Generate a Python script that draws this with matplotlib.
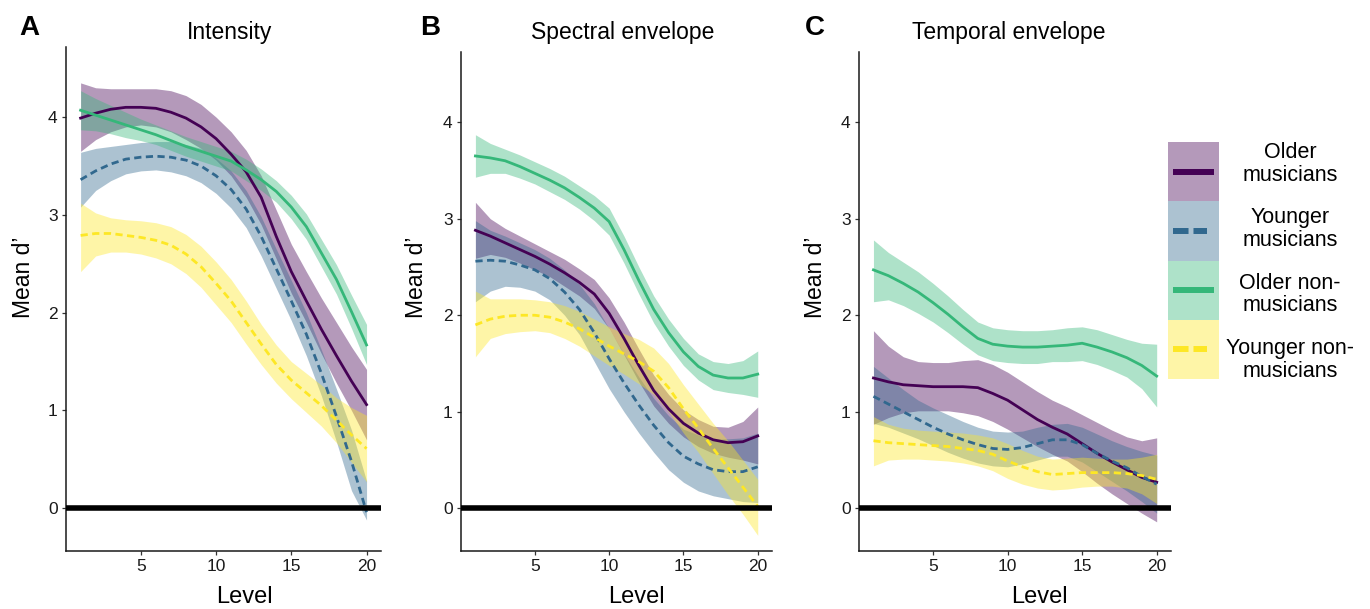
import matplotlib
matplotlib.use('Agg')
import matplotlib.pyplot as plt
from matplotlib.patches import Rectangle

plt.rcParams['font.family'] = ['Liberation Sans', 'DejaVu Sans']

levels = list(range(1, 21))

groups = ['Older\nmusicians', 'Younger\nmusicians', 'Older non-\nmusicians', 'Younger non-\nmusicians']
colors = ['#440154', '#31688E', '#35B779', '#FDE725']
dashed = [False, True, False, True]

# --- A: Intensity ---
int_om = [3.99, 4.04, 4.08, 4.10, 4.10, 4.09, 4.05, 3.99, 3.90, 3.78, 3.62, 3.44, 3.18, 2.78, 2.42, 2.12, 1.83, 1.56, 1.30, 1.06]
int_om_hi = [4.35, 4.30, 4.29, 4.29, 4.29, 4.29, 4.27, 4.22, 4.13, 4.00, 3.85, 3.66, 3.40, 3.05, 2.70, 2.42, 2.15, 1.90, 1.65, 1.42]
int_om_lo = [3.65, 3.77, 3.85, 3.90, 3.92, 3.90, 3.85, 3.77, 3.68, 3.56, 3.40, 3.18, 2.90, 2.55, 2.20, 1.90, 1.58, 1.28, 1.00, 0.70]

int_ym = [3.36, 3.45, 3.52, 3.57, 3.59, 3.60, 3.59, 3.56, 3.50, 3.40, 3.26, 3.06, 2.78, 2.45, 2.12, 1.78, 1.38, 0.94, 0.48, -0.04]
int_ym_hi = [3.64, 3.68, 3.70, 3.72, 3.74, 3.75, 3.75, 3.72, 3.68, 3.58, 3.45, 3.25, 2.98, 2.65, 2.33, 2.00, 1.62, 1.22, 0.80, 0.28]
int_ym_lo = [3.08, 3.25, 3.35, 3.42, 3.45, 3.46, 3.44, 3.40, 3.33, 3.22, 3.07, 2.87, 2.58, 2.25, 1.92, 1.56, 1.15, 0.68, 0.18, -0.12]

int_on = [4.07, 4.02, 3.97, 3.92, 3.87, 3.82, 3.76, 3.70, 3.65, 3.60, 3.55, 3.46, 3.36, 3.24, 3.08, 2.88, 2.61, 2.34, 2.01, 1.67]
int_on_hi = [4.27, 4.19, 4.12, 4.05, 3.98, 3.92, 3.86, 3.80, 3.75, 3.70, 3.65, 3.57, 3.47, 3.35, 3.20, 3.01, 2.75, 2.49, 2.18, 1.88]
int_on_lo = [3.87, 3.86, 3.83, 3.79, 3.76, 3.72, 3.66, 3.60, 3.55, 3.50, 3.45, 3.35, 3.25, 3.13, 2.96, 2.75, 2.47, 2.19, 1.84, 1.47]

int_yn = [2.79, 2.81, 2.81, 2.79, 2.77, 2.74, 2.69, 2.60, 2.47, 2.30, 2.12, 1.90, 1.68, 1.47, 1.31, 1.18, 1.05, 0.90, 0.75, 0.61]
int_yn_hi = [3.12, 3.02, 2.97, 2.95, 2.94, 2.92, 2.88, 2.80, 2.68, 2.52, 2.34, 2.12, 1.88, 1.67, 1.50, 1.38, 1.26, 1.13, 1.03, 0.95]
int_yn_lo = [2.42, 2.58, 2.62, 2.62, 2.60, 2.56, 2.50, 2.40, 2.26, 2.08, 1.90, 1.68, 1.47, 1.28, 1.12, 0.98, 0.84, 0.67, 0.47, 0.27]

# --- B: Spectral envelope ---
spec_om = [2.88, 2.82, 2.75, 2.68, 2.61, 2.53, 2.44, 2.34, 2.22, 2.02, 1.76, 1.48, 1.22, 1.03, 0.88, 0.78, 0.71, 0.68, 0.69, 0.75]
spec_om_hi = [3.17, 3.00, 2.90, 2.82, 2.74, 2.66, 2.58, 2.48, 2.37, 2.18, 1.93, 1.65, 1.38, 1.18, 1.02, 0.92, 0.85, 0.84, 0.90, 1.05]
spec_om_lo = [2.59, 2.63, 2.60, 2.54, 2.47, 2.40, 2.30, 2.20, 2.07, 1.86, 1.59, 1.31, 1.06, 0.88, 0.74, 0.64, 0.57, 0.53, 0.50, 0.46]

spec_ym = [2.56, 2.57, 2.56, 2.52, 2.47, 2.38, 2.24, 2.06, 1.82, 1.55, 1.30, 1.07, 0.86, 0.68, 0.54, 0.46, 0.40, 0.38, 0.38, 0.43]
spec_ym_hi = [2.98, 2.88, 2.82, 2.75, 2.68, 2.59, 2.47, 2.32, 2.12, 1.86, 1.60, 1.36, 1.14, 0.96, 0.82, 0.76, 0.72, 0.72, 0.73, 0.78]
spec_ym_lo = [2.14, 2.25, 2.30, 2.29, 2.25, 2.16, 2.00, 1.80, 1.52, 1.24, 1.00, 0.78, 0.58, 0.40, 0.27, 0.18, 0.13, 0.10, 0.07, 0.06]

spec_on = [3.65, 3.63, 3.60, 3.54, 3.47, 3.40, 3.32, 3.22, 3.11, 2.97, 2.68, 2.36, 2.06, 1.82, 1.62, 1.47, 1.38, 1.35, 1.35, 1.39]
spec_on_hi = [3.87, 3.78, 3.72, 3.66, 3.59, 3.52, 3.44, 3.34, 3.24, 3.11, 2.82, 2.50, 2.20, 1.96, 1.76, 1.60, 1.52, 1.50, 1.53, 1.63]
spec_on_lo = [3.43, 3.47, 3.47, 3.42, 3.36, 3.28, 3.20, 3.10, 2.98, 2.83, 2.54, 2.22, 1.92, 1.68, 1.48, 1.33, 1.23, 1.20, 1.18, 1.15]

spec_yn = [1.90, 1.96, 1.99, 2.00, 2.00, 1.98, 1.93, 1.86, 1.77, 1.68, 1.60, 1.52, 1.42, 1.25, 1.03, 0.83, 0.62, 0.42, 0.22, 0.02]
spec_yn_hi = [2.25, 2.17, 2.17, 2.17, 2.16, 2.14, 2.10, 2.04, 1.96, 1.88, 1.81, 1.75, 1.66, 1.50, 1.28, 1.08, 0.88, 0.70, 0.50, 0.30]
spec_yn_lo = [1.57, 1.76, 1.81, 1.83, 1.84, 1.82, 1.76, 1.68, 1.58, 1.48, 1.39, 1.29, 1.18, 1.00, 0.78, 0.58, 0.36, 0.14, -0.06, -0.28]

# --- C: Temporal envelope ---
temp_om = [1.35, 1.31, 1.28, 1.27, 1.26, 1.26, 1.26, 1.25, 1.19, 1.12, 1.02, 0.92, 0.84, 0.77, 0.67, 0.57, 0.48, 0.40, 0.32, 0.27]
temp_om_hi = [1.84, 1.68, 1.57, 1.52, 1.51, 1.51, 1.53, 1.54, 1.49, 1.41, 1.31, 1.21, 1.12, 1.05, 0.97, 0.89, 0.81, 0.74, 0.70, 0.73]
temp_om_lo = [0.87, 0.94, 0.99, 1.01, 1.01, 1.01, 0.99, 0.96, 0.90, 0.82, 0.73, 0.64, 0.56, 0.49, 0.38, 0.26, 0.15, 0.05, -0.05, -0.14]

temp_ym = [1.16, 1.08, 1.00, 0.92, 0.84, 0.77, 0.71, 0.66, 0.62, 0.61, 0.63, 0.67, 0.71, 0.71, 0.66, 0.57, 0.49, 0.42, 0.33, 0.25]
temp_ym_hi = [1.47, 1.35, 1.23, 1.12, 1.04, 0.97, 0.90, 0.84, 0.80, 0.79, 0.80, 0.84, 0.87, 0.88, 0.84, 0.77, 0.70, 0.64, 0.59, 0.55]
temp_ym_lo = [0.88, 0.84, 0.78, 0.72, 0.65, 0.58, 0.52, 0.47, 0.44, 0.43, 0.46, 0.50, 0.54, 0.54, 0.48, 0.38, 0.28, 0.18, 0.07, -0.05]

temp_on = [2.47, 2.41, 2.33, 2.24, 2.13, 2.01, 1.88, 1.76, 1.70, 1.68, 1.67, 1.67, 1.68, 1.69, 1.71, 1.67, 1.62, 1.56, 1.48, 1.37]
temp_on_hi = [2.78, 2.65, 2.55, 2.45, 2.33, 2.20, 2.06, 1.93, 1.87, 1.85, 1.84, 1.84, 1.85, 1.87, 1.88, 1.85, 1.80, 1.75, 1.71, 1.70]
temp_on_lo = [2.14, 2.16, 2.10, 2.02, 1.93, 1.82, 1.70, 1.59, 1.53, 1.51, 1.50, 1.50, 1.52, 1.52, 1.53, 1.49, 1.43, 1.36, 1.24, 1.05]

temp_yn = [0.70, 0.68, 0.67, 0.66, 0.65, 0.64, 0.62, 0.60, 0.56, 0.49, 0.43, 0.38, 0.35, 0.36, 0.37, 0.37, 0.37, 0.36, 0.34, 0.30]
temp_yn_hi = [0.95, 0.87, 0.83, 0.81, 0.80, 0.79, 0.78, 0.76, 0.73, 0.67, 0.60, 0.54, 0.51, 0.52, 0.53, 0.52, 0.51, 0.51, 0.53, 0.56]
temp_yn_lo = [0.44, 0.50, 0.51, 0.51, 0.50, 0.49, 0.47, 0.44, 0.39, 0.31, 0.25, 0.21, 0.19, 0.20, 0.22, 0.23, 0.23, 0.21, 0.15, 0.05]

panels = [
    ('A', 'Intensity', [(int_om, int_om_lo, int_om_hi), (int_ym, int_ym_lo, int_ym_hi),
                        (int_on, int_on_lo, int_on_hi), (int_yn, int_yn_lo, int_yn_hi)]),
    ('B', 'Spectral envelope', [(spec_om, spec_om_lo, spec_om_hi), (spec_ym, spec_ym_lo, spec_ym_hi),
                                (spec_on, spec_on_lo, spec_on_hi), (spec_yn, spec_yn_lo, spec_yn_hi)]),
    ('C', 'Temporal envelope', [(temp_om, temp_om_lo, temp_om_hi), (temp_ym, temp_ym_lo, temp_ym_hi),
                                (temp_on, temp_on_lo, temp_on_hi), (temp_yn, temp_yn_lo, temp_yn_hi)]),
]

W, H = 1370, 609
fig = plt.figure(figsize=(W / 100, H / 100), dpi=100)

# axes boxes in pixels: left, right, top, bottom
boxes = [(66, 381, 46.7, 551), (461, 772, 51.7, 551), (859, 1171, 51.7, 551)]
title_x = [0.52, 0.52, 0.48]
letter_x = [29.5, 430, 815]
xlabel_x = [0.568, 0.563, 0.577]
ylabel_x = [-0.1365, -0.1415, -0.14]
ylabel_y = [0.543, 0.549, 0.549]
ylims = [(-0.437, 4.72), (-0.442, 4.73), (-0.442, 4.73)]

ink = '#1a1a1a'

for i, (letter, title, series) in enumerate(panels):
    l, r, t, b = boxes[i]
    ax = fig.add_axes([l / W, 1 - b / H, (r - l) / W, (b - t) / H])

    for (mean, lo, hi), col in zip(series, colors):
        ax.fill_between(levels, lo, hi, color=col, alpha=0.4, lw=0)
    for (mean, lo, hi), col, dsh in zip(series, colors, dashed):
        ls = (0, (2.6, 1.6)) if dsh else '-'
        ax.plot(levels, mean, color=col, lw=2, ls=ls)

    ax.axhline(0, color='black', lw=4, zorder=5)

    ax.set_xlim(0.03, 20.96)
    ax.set_ylim(*ylims[i])
    ax.set_xticks([5, 10, 15, 20])
    ax.set_yticks([0, 1, 2, 3, 4])
    for s in ['top', 'right']:
        ax.spines[s].set_visible(False)
    for s in ['left', 'bottom']:
        ax.spines[s].set_color(ink)
        ax.spines[s].set_linewidth(1.1)
    ax.tick_params(length=3, width=0.9, color='#333333', labelsize=12.5,
                   labelcolor=ink, pad=3)

    ax.set_xlabel('Level', fontsize=17, va='baseline')
    ax.xaxis.set_label_coords(xlabel_x[i], -(603 - b) / (b - t))
    ax.set_ylabel('Mean d\u2019', fontsize=16.5, va='center')
    ax.yaxis.set_label_coords(ylabel_x[i], ylabel_y[i])

    ax.text(title_x[i], 1 + (t - 39) / (b - t), title, transform=ax.transAxes,
            ha='center', va='baseline', fontsize=16.5)
    fig.text(letter_x[i] / W, 1 - 35 / H, letter, ha='center', va='baseline',
             fontsize=20, fontweight='bold')

# legend drawn in its own overlay axes, laid out in figure pixels
lax = fig.add_axes([1160 / W, 1 - 395 / H, 210 / W, 265 / H])
lax.set_xlim(1160, 1370)
lax.set_ylim(395, 130)
lax.axis('off')

key_top = 142
key_h = 59.25
text_y = [164, 229, 294.5, 360]
for k, (lab, col, dsh) in enumerate(zip(groups, colors, dashed)):
    y0 = key_top + k * key_h
    lax.add_patch(Rectangle((1168, y0), 50.7, key_h, facecolor=col, alpha=0.4, lw=0))
    yc = y0 + key_h / 2
    if dsh:
        lax.plot([1172.7, 1207.5], [yc, yc], color=col, lw=4.3, ls=(0, (2.6, 0.83)),
                 dash_capstyle='butt')
    else:
        lax.plot([1172.7, 1214], [yc, yc], color=col, lw=4.3, solid_capstyle='butt')
    lax.text(1290, text_y[k], lab, ha='center', va='center', fontsize=15.5,
             multialignment='center', linespacing=1.1)

fig.savefig('out.png', dpi=100)
